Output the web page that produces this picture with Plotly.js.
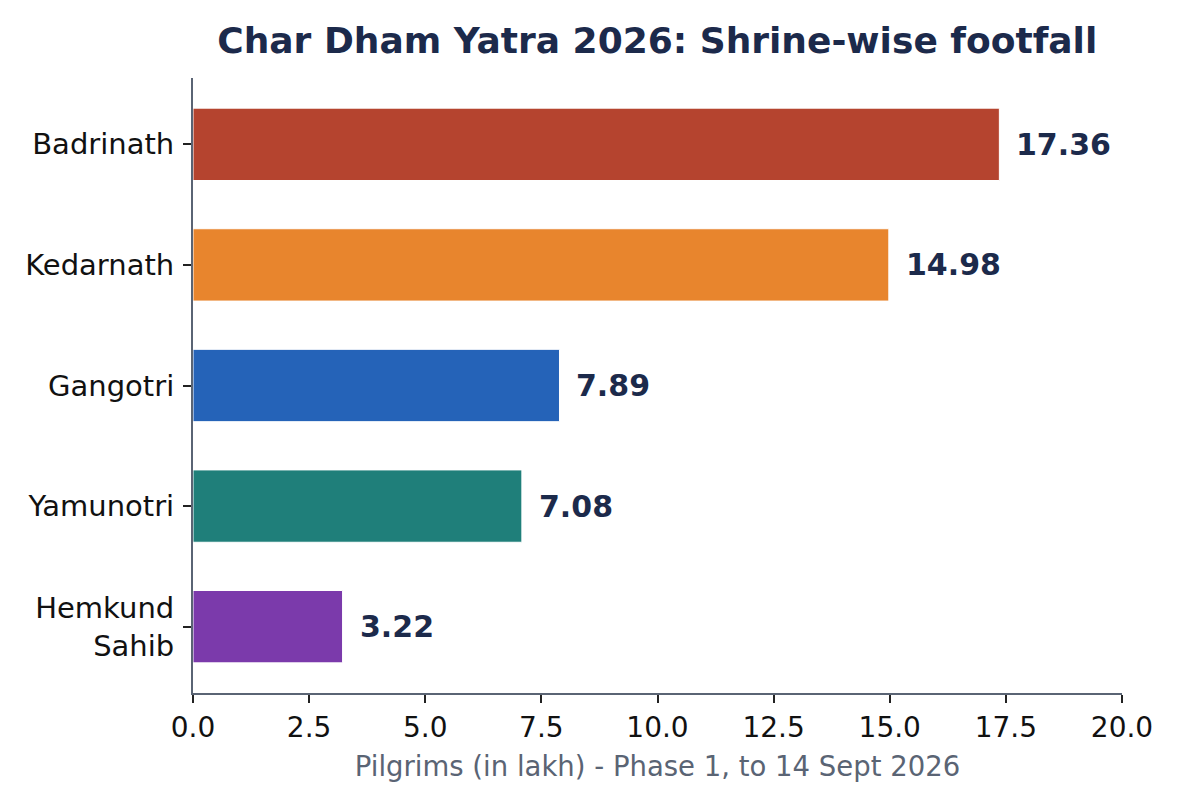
<!DOCTYPE html>
<html>
<head>
<meta charset="utf-8">
<script src="https://cdn.plot.ly/plotly-3.0.1.min.js"></script>
<style>
  html, body { margin: 0; padding: 0; background: #fff; }
  #graph { width: 1179px; height: 805px; }
</style>
</head>
<body>
<div id="graph"></div>
<script>
'use strict';

var shrines = ['Badrinath', 'Kedarnath', 'Gangotri', 'Yamunotri', 'Hemkund<br>Sahib'];
var pilgrims = [17.36, 14.98, 7.89, 7.08, 3.22];
var barColors = ['#b5442f', '#e8852d', '#2563b8', '#1f7f7a', '#7b3aab'];
var xTicks = [0, 2.5, 5, 7.5, 10, 12.5, 15, 17.5, 20];
var xTickLabels = ['0.0', '2.5', '5.0', '7.5', '10.0', '12.5', '15.0', '17.5', '20.0'];

var navy = '#1c2a4b';
var axisGrey = '#5a6474';
var font = 'DejaVu Sans, sans-serif';

var trace = {
  type: 'bar',
  orientation: 'h',
  y: shrines,
  x: pilgrims,
  width: 0.6,
  marker: { color: barColors, line: { color: '#ffffff', width: 1 } },
  hoverinfo: 'x+y'
};

// value labels, just right of each bar
var labels = pilgrims.map(function (v, i) {
  return {
    x: v, y: shrines[i], xref: 'x', yref: 'y',
    text: v.toFixed(2), showarrow: false,
    xanchor: 'left', xshift: 15,
    font: { family: font, size: 30, color: navy, weight: 'bold' }
  };
});

var layout = {
  width: 1179,
  height: 805,
  margin: { l: 193, r: 57, t: 78, b: 112 },
  paper_bgcolor: '#ffffff',
  plot_bgcolor: '#ffffff',
  showlegend: false,
  font: { family: font, color: '#111' },
  title: {
    text: '<b>Char Dham Yatra 2026: Shrine-wise footfall</b>',
    x: 0.5575, xanchor: 'center', y: 0.95, yanchor: 'middle',
    font: { family: font, size: 36, color: navy }
  },
  xaxis: {
    range: [0, 20],
    tickvals: xTicks,
    ticktext: xTickLabels,
    ticks: 'outside', ticklen: 8, tickwidth: 2, tickcolor: '#222',
    showline: true, linecolor: axisGrey, linewidth: 2,
    showgrid: false, zeroline: false,
    tickfont: { family: font, size: 28, color: '#111' },
    title: {
      text: 'Pilgrims (in lakh) - Phase 1, to 14 Sept 2026',
      font: { family: font, size: 27.5, color: axisGrey },
      standoff: 14
    }
  },
  yaxis: {
    type: 'category',
    range: [4.55, -0.55],
    ticks: 'outside', ticklen: 8, tickwidth: 2, tickcolor: '#222',
    showline: true, linecolor: axisGrey, linewidth: 2,
    showgrid: false, zeroline: false,
    tickfont: { family: font, size: 29, color: '#111' },
    ticklabelstandoff: 3
  },
  annotations: labels
};

Plotly.newPlot('graph', [trace], layout, { displayModeBar: false, staticPlot: true });
</script>
</body>
</html>
